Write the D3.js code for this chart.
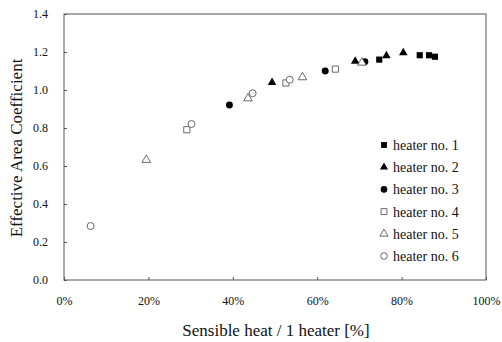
<!DOCTYPE html>
<html>
<head>
<meta charset="utf-8">
<script src="https://cdn.jsdelivr.net/npm/d3@7"></script>
<style>
  body { margin: 0; background: #fff; }
  svg text { font-family: "Liberation Serif", "Times New Roman", Times, "DejaVu Serif", serif !important; fill: #111; }
</style>
</head>
<body>
<div id="chart"></div>
<script>
// data: [sensible heat %, coefficient]
var heater1 = [[74.7, 1.16], [84.3, 1.183], [86.5, 1.183], [87.9, 1.175]];
var heater2 = [[49.3, 1.04], [69.0, 1.151], [76.4, 1.18], [80.4, 1.196]];
var heater3 = [[39.2, 0.921], [61.9, 1.10], [71.3, 1.149]];
var heater4 = [[29.1, 0.791], [52.6, 1.037], [64.3, 1.11]];
var heater5 = [[19.5, 0.632], [43.6, 0.956], [56.5, 1.067], [70.6, 1.144]];
var heater6 = [[6.3, 0.284], [30.2, 0.821], [44.7, 0.983], [53.5, 1.054]];

var seriesNames = ["heater no. 1", "heater no. 2", "heater no. 3", "heater no. 4", "heater no. 5", "heater no. 6"];
var xTicks = [0, 20, 40, 60, 80, 100];
var yTicks = [0, 0.2, 0.4, 0.6, 0.8, 1.0, 1.2, 1.4];

var series = [
    { name: seriesNames[0], data: heater1, shape: d3.symbolSquare, filled: true },
    { name: seriesNames[1], data: heater2, shape: d3.symbolTriangle, filled: true },
    { name: seriesNames[2], data: heater3, shape: d3.symbolCircle, filled: true },
    { name: seriesNames[3], data: heater4, shape: d3.symbolSquare, filled: false },
    { name: seriesNames[4], data: heater5, shape: d3.symbolTriangle, filled: false },
    { name: seriesNames[5], data: heater6, shape: d3.symbolCircle, filled: false }
];

var serif = '"Liberation Serif", "Times New Roman", Times, "DejaVu Serif", serif';
var width = 502, height = 342;
var margin = { top: 14, right: 16, bottom: 62, left: 64 };

var svg = d3.select("#chart").append("svg")
    .attr("width", width)
    .attr("height", height)
    .attr("font-family", serif);

var x = d3.scaleLinear().domain([0, 100]).range([margin.left, width - margin.right]);
var y = d3.scaleLinear().domain([0, 1.4]).range([height - margin.bottom, margin.top]);

// frame
svg.append("rect")
    .attr("x", x(0)).attr("y", y(1.4))
    .attr("width", x(100) - x(0)).attr("height", y(0) - y(1.4))
    .attr("fill", "none").attr("stroke", "#555").attr("stroke-width", 1);

var xAxis = svg.append("g")
    .attr("transform", "translate(0," + y(0) + ")")
    .call(d3.axisBottom(x).tickValues(xTicks).tickSize(-3).tickPadding(16)
        .tickFormat(function(d) { return d + "%"; }));
xAxis.attr("font-family", serif);
xAxis.select(".domain").remove();
xAxis.selectAll("line").attr("stroke", "#555");
xAxis.selectAll("text").style("font-size", "12px");

var yAxis = svg.append("g")
    .attr("transform", "translate(" + x(0) + ",0)")
    .call(d3.axisLeft(y).tickValues(yTicks).tickSize(-3).tickPadding(16)
        .tickFormat(d3.format(".1f")));
yAxis.attr("font-family", serif);
yAxis.select(".domain").remove();
yAxis.selectAll("line").attr("stroke", "#555");
yAxis.selectAll("text").style("font-size", "12px");

// axis titles
svg.append("text")
    .attr("x", 276).attr("y", 336)
    .attr("text-anchor", "middle")
    .style("font-size", "17px")
    .text("Sensible heat / 1 heater [%]");

svg.append("text")
    .attr("transform", "translate(22," + 148 + ") rotate(-90)")
    .attr("text-anchor", "middle")
    .style("font-size", "17px")
    .text("Effective Area Coefficient");

function symSize(shape) {
    if (shape === d3.symbolSquare) return 38;
    if (shape === d3.symbolTriangle) return 32;
    return 38;
}

// points
series.forEach(function(s) {
    svg.append("g").selectAll("path")
        .data(s.data)
        .enter().append("path")
        .attr("transform", function(d) { return "translate(" + x(d[0]) + "," + y(d[1]) + ")"; })
        .attr("d", d3.symbol().type(s.shape).size(symSize(s.shape)))
        .attr("fill", s.filled ? "#000" : "#fff")
        .attr("stroke", s.filled ? "#000" : "#444")
        .attr("stroke-width", s.filled ? 0 : 0.8);
});

// legend
var legend = svg.append("g").attr("transform", "translate(384,145)");
var rows = legend.selectAll("g")
    .data(series)
    .enter().append("g")
    .attr("transform", function(d, i) { return "translate(0," + (i * 22.2) + ")"; });

rows.append("path")
    .attr("d", function(d) { return d3.symbol().type(d.shape).size(symSize(d.shape) * 0.9)(); })
    .attr("fill", function(d) { return d.filled ? "#000" : "#fff"; })
    .attr("stroke", function(d) { return d.filled ? "#000" : "#444"; })
    .attr("stroke-width", function(d) { return d.filled ? 0 : 0.8; });

rows.append("text")
    .attr("x", 9).attr("y", 5)
    .style("font-size", "14px")
    .text(function(d) { return d.name; });
</script>
</body>
</html>
